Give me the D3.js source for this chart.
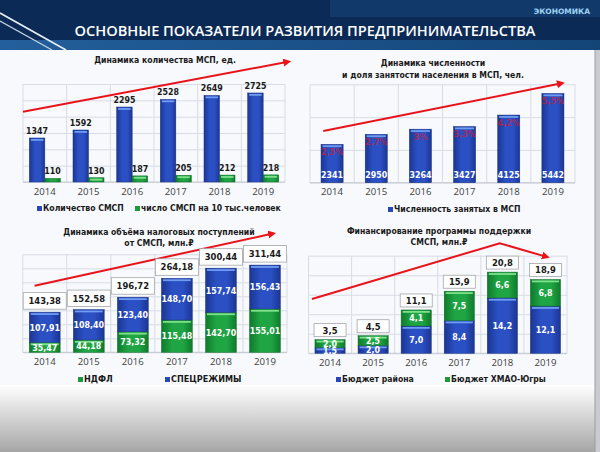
<!DOCTYPE html>
<meta charset="utf-8">
<head>
  <title>Основные показатели развития предпринимательства</title>
  <style>
    body { margin: 0; background: #fff; }
    svg { display: block; }
    text { font-family: "DejaVu Sans Condensed", "DejaVu Sans", sans-serif; }
  </style>
</head>
<body>
<script src="https://d3js.org/d3.v7.min.js"></script>
<script>
var WIDTH = 600,
    HEIGHT = 452;

// data
var years = ["2014", "2015", "2016", "2017", "2018", "2019"];

var smspCount = [1347, 1592, 2295, 2528, 2649, 2725];
var smspPer10k = [110, 130, 187, 205, 212, 218];

var employed = [2341, 2950, 3264, 3427, 4125, 5442];
var employedShare = ["2,5%", "2,7%", "3%", "3,3%", "4,2%", "5,5%"];

var ndfl = [35.47, 44.18, 73.32, 115.48, 142.70, 155.01];
var specRegimes = [107.91, 108.40, 123.40, 148.70, 157.74, 156.43];
var taxTotal = [143.38, 152.58, 196.72, 264.18, 300.44, 311.44];

var districtBudget = [1.5, 2.0, 7.0, 8.4, 14.2, 12.1];
var regionBudget = [2.0, 2.5, 4.1, 7.5, 6.6, 6.8];
var fundTotal = [3.5, 4.5, 11.1, 15.9, 20.8, 18.9];

// trend arrows: [category position (0 = first band start), value]
var trendCount = [[0, 2150], [6.07, 3680]];
var trendEmployed = [[0.3, 3150], [5.7, 6060]];
var trendTax = [[0.27, 238], [5.68, 424]];
var trendFund = [[0.08, 13.9], [4.44, 28.2], [5.53, 24.7]];

var fmt = function(v, d) { return v.toFixed(d).replace(".", ","); };

var svg = d3.select("body").append("svg")
    .attr("width", WIDTH)
    .attr("height", HEIGHT);

var defs = svg.append("defs");

function hGrad(id, edge, mid) {
  var gr = defs.append("linearGradient").attr("id", id)
      .attr("x1", "0").attr("x2", "1").attr("y1", "0").attr("y2", "0");
  gr.append("stop").attr("offset", "0").attr("stop-color", edge);
  gr.append("stop").attr("offset", "0.35").attr("stop-color", mid);
  gr.append("stop").attr("offset", "0.7").attr("stop-color", mid);
  gr.append("stop").attr("offset", "1").attr("stop-color", edge);
}
hGrad("blueGrad", "#1b3592", "#2b50c4");
hGrad("greenGrad", "#0f7a2b", "#1fa544");

var bottomGrad = defs.append("linearGradient").attr("id", "bottomGrad")
    .attr("x1", "0").attr("x2", "0").attr("y1", "0").attr("y2", "1");
bottomGrad.append("stop").attr("offset", "0").attr("stop-color", "#ffffff");
bottomGrad.append("stop").attr("offset", "1").attr("stop-color", "#a6a6a6");

var stripGrad = defs.append("linearGradient").attr("id", "stripGrad")
    .attr("x1", "0").attr("x2", "1").attr("y1", "0").attr("y2", "0");
stripGrad.append("stop").attr("offset", "0").attr("stop-color", "#235f9c");
stripGrad.append("stop").attr("offset", "1").attr("stop-color", "#134577");

defs.append("marker").attr("id", "arrow")
    .attr("viewBox", "0 0 10 10").attr("refX", 6).attr("refY", 5)
    .attr("markerWidth", 4).attr("markerHeight", 4).attr("orient", "auto")
  .append("path").attr("d", "M0,0L10,5L0,10z").attr("fill", "#e8141c");

// background
svg.append("rect").attr("width", WIDTH).attr("height", HEIGHT).attr("fill", "#f7f9fc");
svg.append("rect").attr("y", 385).attr("width", WIDTH).attr("height", HEIGHT - 385)
    .attr("fill", "url(#bottomGrad)");
svg.append("rect").attr("x", 595).attr("width", 5).attr("height", HEIGHT).attr("fill", "#c9cbd0");
svg.append("line").attr("x1", 595).attr("x2", 595).attr("y1", 50).attr("y2", HEIGHT)
    .attr("stroke", "#9a9ca2").attr("stroke-width", 1);

// header
svg.append("rect").attr("width", WIDTH).attr("height", 50).attr("fill", "#0b2b56");
svg.append("rect").attr("x", 330).attr("width", 270).attr("height", 17).attr("fill", "#113a6b");
svg.append("rect").attr("y", 40).attr("width", WIDTH).attr("height", 10).attr("fill", "url(#stripGrad)");
svg.append("line").attr("x1", 0).attr("y1", 13).attr("x2", 66).attr("y2", 50)
    .attr("stroke", "#e8eef6").attr("stroke-width", 1.6);
svg.append("line").attr("x1", 0).attr("y1", 21).attr("x2", 52).attr("y2", 50)
    .attr("stroke", "#c9d6e6").attr("stroke-width", 1.2);
svg.append("text").attr("x", 590).attr("y", 14).attr("text-anchor", "end")
    .style("font-family", "'DejaVu Sans', sans-serif")
    .attr("font-size", 7.5).attr("font-weight", "bold").attr("fill", "#9fd2f2")
    .text("ЭКОНОМИКА");
svg.append("text").attr("x", 305).attr("y", 36).attr("text-anchor", "middle")
    .style("font-family", "'Open Sans', sans-serif")
    .attr("font-size", 14.6).attr("font-weight", 600).attr("fill", "#ffffff")
    .text("ОСНОВНЫЕ ПОКАЗАТЕЛИ РАЗВИТИЯ ПРЕДПРИНИМАТЕЛЬСТВА");

function makePanel(o) {
  var g = svg.append("g");
  var x = d3.scaleBand().domain(years).range([o.left, o.right]);
  var y = d3.scaleLinear().domain([0, o.ymax]).range([o.bottom, o.top]);

  g.append("g")
      .attr("transform", "translate(" + o.left + ",0)")
      .call(d3.axisLeft(y).tickValues(d3.range(0, o.ymax + 1e-9, o.step))
        .tickSize(-(o.right - o.left)).tickFormat(""))
      .call(function(a) { a.select(".domain").remove(); })
      .selectAll("line").attr("stroke", "#d8dce4");

  g.selectAll(".vgrid").data(d3.range(years.length + 1)).enter().append("line")
      .attr("x1", function(i) { return o.left + i * x.step(); })
      .attr("x2", function(i) { return o.left + i * x.step(); })
      .attr("y1", o.top).attr("y2", o.bottom)
      .attr("stroke", "#d8dce4");

  g.append("line").attr("x1", o.left).attr("x2", o.right)
      .attr("y1", o.bottom).attr("y2", o.bottom).attr("stroke", "#c4c8d0");

  g.append("g")
      .attr("transform", "translate(0," + (o.bottom + 4) + ")")
      .call(d3.axisBottom(x).tickSize(0).tickPadding(0))
      .call(function(a) { a.select(".domain").remove(); })
      .selectAll("text")
        .style("font-family", "'Open Sans', sans-serif")
        .attr("font-size", 9.6).attr("fill", "#404040").attr("dy", "0.9em");

  o.title.forEach(function(t, i) {
    g.append("text").attr("x", o.titleX).attr("y", o.titleY + i * 11.5)
        .attr("text-anchor", "middle").attr("font-size", 8.6).attr("font-weight", "bold")
        .attr("fill", "#1a1a1a").text(t);
  });

  o.legend.forEach(function(l) {
    g.append("rect").attr("x", l.x).attr("y", o.legendY - 5).attr("width", 5).attr("height", 5)
        .attr("fill", l.color);
    g.append("text").attr("x", l.x + 6).attr("y", o.legendY)
        .attr("font-size", o.legendSize || 8.6).attr("font-weight", "bold").attr("fill", "#1a1a1a")
        .text(l.label);
  });

  return { g: g, x: x, y: y };
}

function bar(g, x0, w, y0, y1, kind) {
  var h = y0 - y1;
  g.append("rect").attr("x", x0).attr("y", y1).attr("width", w).attr("height", h)
      .attr("fill", kind === "blue" ? "url(#blueGrad)" : "url(#greenGrad)")
      .attr("stroke", kind === "blue" ? "#16307e" : "#0c6a24").attr("stroke-width", 0.5);
  if (h > 4)
    g.append("rect").attr("x", x0 + 1.5).attr("y", y1 + 1).attr("width", w - 3).attr("height", 1.8)
        .attr("fill", kind === "blue" ? "#6f9cf2" : "#7fe08c");
}

function trend(p, pts) {
  var line = d3.line()
      .x(function(d) { return p.x.range()[0] + d[0] * p.x.step(); })
      .y(function(d) { return p.y(d[1]); });
  p.g.append("path").attr("d", line(pts)).attr("fill", "none")
      .attr("stroke", "#e8141c").attr("stroke-width", 2).attr("marker-end", "url(#arrow)");
}

function label(g, x, y, t, color, size) {
  g.append("text").attr("x", x).attr("y", y).attr("text-anchor", "middle")
      .attr("font-size", size || 8.8).attr("font-weight", "bold").attr("fill", color).text(t);
}

function totalBox(g, cx, y, w, h, t) {
  g.append("rect").attr("x", cx - w / 2).attr("y", y - h).attr("width", w).attr("height", h)
      .attr("fill", "#ffffff").attr("stroke", "#a4a6aa").attr("stroke-width", 0.8);
  label(g, cx, y - h / 2 + 3.4, t, "#1a1a1a", 9.4);
}

// panel 1: number of SMEs
var p1 = makePanel({
  left: 23, right: 285, top: 84, bottom: 182, ymax: 3000, step: 500,
  title: ["Динамика количества МСП, ед."], titleX: 165, titleY: 63,
  legendY: 211,
  legend: [{ x: 37, color: "#2748b8", label: "Количество СМСП" },
           { x: 135, color: "#1a9a3c", label: "число СМСП на 10 тыс.человек" }]
});
trend(p1, trendCount);
years.forEach(function(yr, i) {
  var bw = p1.x.bandwidth() * 0.355, c = p1.x(yr) + p1.x.bandwidth() / 2;
  bar(p1.g, c - bw, bw, p1.y(0), p1.y(smspCount[i]), "blue");
  bar(p1.g, c, bw, p1.y(0), p1.y(smspPer10k[i]), "green");
  label(p1.g, c - bw / 2, p1.y(smspCount[i]) - 4, smspCount[i], "#1a1a1a");
  label(p1.g, c + bw / 2, p1.y(smspPer10k[i]) - 4, smspPer10k[i], "#1a1a1a");
});

// panel 2: employment
var p2 = makePanel({
  left: 310, right: 575, top: 84.3, bottom: 182.7, ymax: 6000, step: 2000,
  title: ["Динамика численности", "и доля занятости населения в МСП, чел."], titleX: 433, titleY: 66,
  legendY: 212,
  legend: [{ x: 388, color: "#2748b8", label: "Численность занятых в МСП" }]
});
trend(p2, trendEmployed);
years.forEach(function(yr, i) {
  var bw = p2.x.bandwidth() * 0.5, c = p2.x(yr) + p2.x.bandwidth() / 2;
  bar(p2.g, c - bw / 2, bw, p2.y(0), p2.y(employed[i]), "blue");
  label(p2.g, c, p2.y(0) - 5, employed[i], "#ffffff");
  p2.g.append("text").attr("x", c).attr("y", p2.y(employed[i]) + 11).attr("text-anchor", "middle")
      .attr("font-size", 9).attr("font-weight", "bold").attr("fill", "#c8203c").attr("fill-opacity", 0.75)
      .text(employedShare[i]);
});

// panel 3: tax revenue
var p3 = makePanel({
  left: 22.7, right: 287, top: 254.3, bottom: 352.3, ymax: 350, step: 50,
  title: ["Динамика объёма налоговых поступлений", "от СМСП, млн.₽"], titleX: 159, titleY: 234.5,
  legendY: 382, legendSize: 9,
  legend: [{ x: 78, color: "#1a9a3c", label: "НДФЛ" },
           { x: 165, color: "#2748b8", label: "СПЕЦРЕЖИМЫ" }]
});
trend(p3, trendTax);
years.forEach(function(yr, i) {
  var bw = p3.x.bandwidth() * 0.7, c = p3.x(yr) + p3.x.bandwidth() / 2;
  var y0 = p3.y(0), y1 = p3.y(ndfl[i]), y2 = p3.y(ndfl[i] + specRegimes[i]);
  bar(p3.g, c - bw / 2, bw, y0, y1, "green");
  bar(p3.g, c - bw / 2, bw, y1, y2, "blue");
  label(p3.g, c, (y0 + y1) / 2 + 3.3, fmt(ndfl[i], 2), "#ffffff");
  label(p3.g, c, (y1 + y2) / 2 + 3.3, fmt(specRegimes[i], 2), "#ffffff");
  totalBox(p3.g, c, p3.y(taxTotal[i]) - 3, 43, 16.5, fmt(taxTotal[i], 2));
});

// panel 4: support funding
var p4 = makePanel({
  left: 308.5, right: 567, top: 255.7, bottom: 353.3, ymax: 25, step: 5,
  title: ["Финансирование программы поддержки", "СМСП, млн.₽"], titleX: 439, titleY: 233.5,
  legendY: 382,
  legend: [{ x: 336, color: "#2748b8", label: "Бюджет района" },
           { x: 445, color: "#1a9a3c", label: "Бюджет ХМАО-Югры" }]
});
trend(p4, trendFund);
years.forEach(function(yr, i) {
  var bw = p4.x.bandwidth() * 0.7, c = p4.x(yr) + p4.x.bandwidth() / 2;
  var y0 = p4.y(0), y1 = p4.y(districtBudget[i]), y2 = p4.y(districtBudget[i] + regionBudget[i]);
  bar(p4.g, c - bw / 2, bw, y0, y1, "blue");
  bar(p4.g, c - bw / 2, bw, y1, y2, "green");
  label(p4.g, c, (y0 + y1) / 2 + 3.3, fmt(districtBudget[i], 1), "#ffffff");
  label(p4.g, c, (y1 + y2) / 2 + 3.3, fmt(regionBudget[i], 1), "#ffffff");
  totalBox(p4.g, c, p4.y(fundTotal[i]) - 3, 32, 13, fmt(fundTotal[i], 1));
});
</script>
</body>
